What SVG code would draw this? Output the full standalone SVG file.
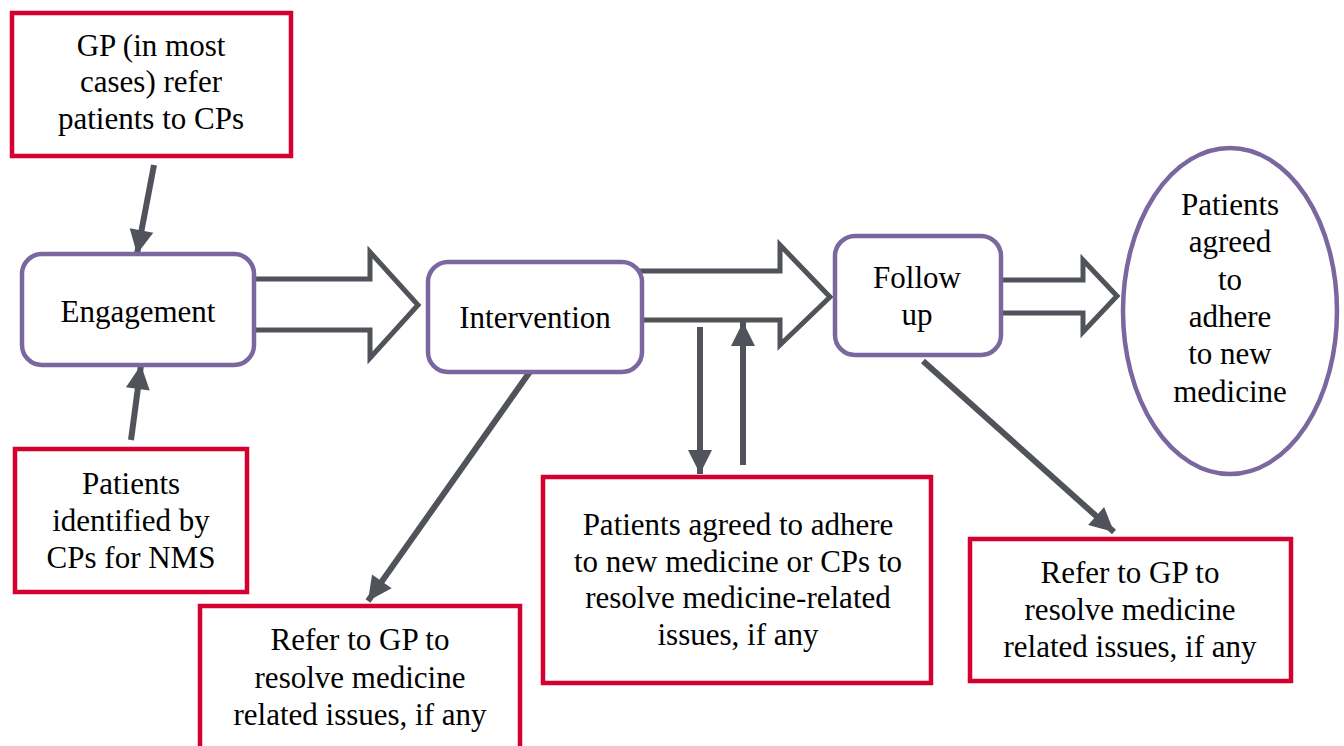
<svg xmlns="http://www.w3.org/2000/svg" width="1344" height="746" viewBox="0 0 1344 746">
<defs>
<style>
.red{fill:#fff;stroke:#D4002F;stroke-width:4.5}
.pur{fill:#fff;stroke:#7A67A0;stroke-width:4.5}
.blk{fill:#fff;stroke:#505359;stroke-width:5;stroke-linejoin:miter}
.ln{stroke:#505359;stroke-width:6;fill:none}
.t{font-family:"Liberation Serif","Times New Roman",Times,serif;font-size:31px;fill:#000;text-anchor:middle}
</style>
<marker id="ah" markerUnits="userSpaceOnUse" markerWidth="30" markerHeight="30" viewBox="0 0 30 30" refX="26" refY="15" orient="auto">
<path d="M2,3 L26,15 L2,27 Z" fill="#505359"/>
</marker>
</defs>
<g id="connectors">
<path class="blk" d="M250,279 L370,279 L370,252 L418,305 L370,358 L370,330 L250,330"/>
<path class="blk" d="M638,271 L780,271 L780,245 L830,297 L780,345 L780,320 L638,320"/>
<path class="blk" d="M996,280 L1083,280 L1083,260 L1117,296 L1083,332 L1083,313 L996,313"/>
<line class="ln" x1="154" y1="165" x2="137" y2="254" marker-end="url(#ah)"/>
<line class="ln" x1="131" y1="440" x2="141" y2="365" marker-end="url(#ah)"/>
<line class="ln" x1="534" y1="366" x2="368" y2="601" marker-end="url(#ah)"/>
<line class="ln" x1="700" y1="327" x2="700" y2="474" marker-end="url(#ah)"/>
<line class="ln" x1="743" y1="465" x2="743" y2="322" marker-end="url(#ah)"/>
<line class="ln" x1="923" y1="361" x2="1114" y2="532" marker-end="url(#ah)"/>
</g>
<g id="gp">
<rect class="red" x="12" y="13" width="279" height="143"/>
<text class="t" x="151" y="56">GP (in most</text>
<text class="t" x="151" y="92">cases) refer</text>
<text class="t" x="151" y="129">patients to CPs</text>
</g>
<g id="engagement">
<rect class="pur" x="22" y="254" width="232" height="111" rx="20"/>
<text class="t" x="138" y="322">Engagement</text>
</g>
<g id="identified">
<rect class="red" x="15" y="449" width="232" height="143"/>
<text class="t" x="131" y="494">Patients</text>
<text class="t" x="131" y="531">identified by</text>
<text class="t" x="131" y="568">CPs for NMS</text>
</g>
<g id="intervention">
<rect class="pur" x="428" y="262" width="214" height="110" rx="20"/>
<text class="t" x="535" y="328">Intervention</text>
</g>
<g id="followup">
<rect class="pur" x="835" y="236" width="166" height="119" rx="20"/>
<text class="t" x="917" y="288">Follow</text>
<text class="t" x="917" y="325">up</text>
</g>
<g id="outcome">
<ellipse class="pur" cx="1230" cy="311" rx="107" ry="163"/>
<text class="t" x="1230" y="215">Patients</text>
<text class="t" x="1230" y="252">agreed</text>
<text class="t" x="1230" y="290">to</text>
<text class="t" x="1230" y="327">adhere</text>
<text class="t" x="1230" y="364">to new</text>
<text class="t" x="1230" y="402">medicine</text>
</g>
<g id="refer1">
<rect class="red" x="200" y="606" width="320" height="150"/>
<text class="t" x="360" y="650">Refer to GP to</text>
<text class="t" x="360" y="688">resolve medicine</text>
<text class="t" x="360" y="725">related issues, if any</text>
</g>
<g id="agreed">
<rect class="red" x="543" y="477" width="388" height="206"/>
<text class="t" x="738" y="535">Patients agreed to adhere</text>
<text class="t" x="738" y="572">to new medicine or CPs to</text>
<text class="t" x="738" y="608">resolve medicine-related</text>
<text class="t" x="738" y="645">issues, if any</text>
</g>
<g id="refer2">
<rect class="red" x="970" y="539" width="321" height="142"/>
<text class="t" x="1130" y="583">Refer to GP to</text>
<text class="t" x="1130" y="620">resolve medicine</text>
<text class="t" x="1130" y="657">related issues, if any</text>
</g>
</svg>
